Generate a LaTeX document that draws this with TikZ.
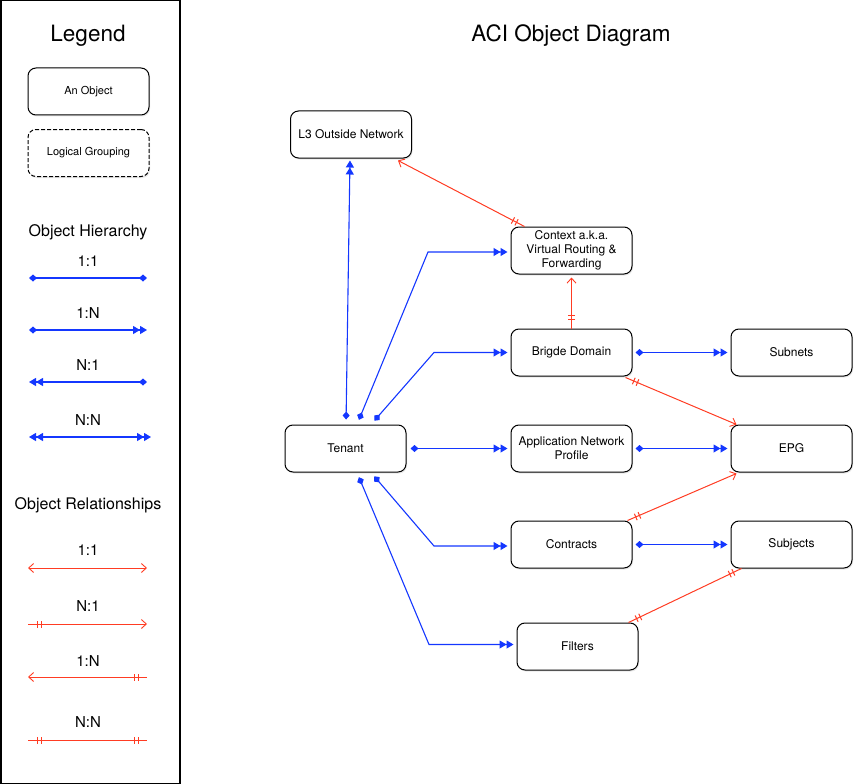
\documentclass[tikz,border=0pt]{standalone}
\usepackage{fontspec}
\setmainfont{TeX Gyre Heros}
\usetikzlibrary{arrows.meta,decorations.markings,shadows,calc}
\definecolor{hblue}{RGB}{20,55,255}
\definecolor{rred}{RGB}{255,60,35}
\tikzset{
  dmd/.tip={Diamond[length=8pt,width=7pt]},
  dtri/.tip={Triangle[length=7pt,width=8pt] Triangle[length=7pt,width=8pt]},
  obarb/.tip={Straight Barb[length=5pt,width=9pt,line width=0.9pt]},
  obj/.style={draw, rounded corners=8pt, line width=1pt, minimum width=121pt,
    minimum height=47pt, inner sep=0pt, align=center, fill=white,
    font=\fontsize{12}{14}\selectfont,
    drop shadow={shadow xshift=1pt,shadow yshift=-1.5pt,opacity=0.18}},
  hier/.style={hblue, line width=1.1pt},
  rel/.style={rred, line width=1pt},
  hs/.style={postaction={decorate,decoration={markings,
    mark=at position 9pt with {\draw[-,rred,line width=1pt] (0pt,-3.5pt)--(0pt,3.5pt) (4pt,-3.5pt)--(4pt,3.5pt);}}}},
  he/.style={postaction={decorate,decoration={markings,
    mark=at position -9pt with {\draw[-,rred,line width=1pt] (0pt,-3.5pt)--(0pt,3.5pt) (-4pt,-3.5pt)--(-4pt,3.5pt);}}}},
  big/.style={font=\fontsize{22.5}{26}\selectfont},
  head/.style={font=\fontsize{16}{18}\selectfont},
  lab/.style={font=\fontsize{15}{18}\selectfont},
  small/.style={font=\fontsize{11}{13}\selectfont}
}
\begin{document}
\begin{tikzpicture}[x=1pt,y=-1pt]
\useasboundingbox (0,0) rectangle (855,784);
% legend frame
\draw[line width=1.5pt] (0.75,0.75) rectangle (180,783.25);
\node[big] (legtitle) at (88,36) {Legend};
\node[obj, small] (lobj) at (88.5,91.5) {An Object};
\node[obj, small, dashed, dash pattern=on 4pt off 2pt] (lgrp) at (88.5,153) {Logical Grouping};
\node[head] (hh) at (88,232) {Object Hierarchy};
\node[lab] (h1) at (88,261) {1:1};
\node[lab] (h2) at (88,313) {1:N};
\node[lab] (h3) at (88,365) {N:1};
\node[lab] (h4) at (88,420) {N:N};
\coordinate (h1a) at (29,278); \coordinate (h1b) at (147,278);
\coordinate (h2a) at (29,330); \coordinate (h2b) at (147,330);
\coordinate (h3a) at (29,382); \coordinate (h3b) at (147,382);
\coordinate (h4a) at (29,437); \coordinate (h4b) at (151,437);
\draw[hier,dmd-dmd] (h1a) -- (h1b);
\draw[hier,dmd-dtri] (h2a) -- (h2b);
\draw[hier,dtri-dmd] (h3a) -- (h3b);
\draw[hier,dtri-dtri] (h4a) -- (h4b);
\node[head] (rh) at (88,505) {Object Relationships};
\node[lab] (r1) at (88,550) {1:1};
\node[lab] (r2) at (88,606) {N:1};
\node[lab] (r3) at (88,661) {1:N};
\node[lab] (r4) at (88,722) {N:N};
\coordinate (r1a) at (28,568); \coordinate (r1b) at (147,568);
\coordinate (r2a) at (28,624); \coordinate (r2b) at (147,624);
\coordinate (r3a) at (28,677); \coordinate (r3b) at (147,677);
\coordinate (r4a) at (28,740); \coordinate (r4b) at (147,740);
\draw[rel,obarb-obarb] (r1a) -- (r1b);
\draw[rel,hs,-obarb] (r2a) -- (r2b);
\draw[rel,he,obarb-] (r3a) -- (r3b);
\draw[rel,hs,he] (r4a) -- (r4b);
% diagram
\node[big] (title) at (571,36) {ACI Object Diagram};
\node[obj] (l3) at (351,134.5) {L3 Outside Network};
\node[obj] (ctx) at (571.5,250.5) {Context a.k.a.\\Virtual Routing \&\\Forwarding};
\node[obj] (bd) at (571.5,352.5) {Brigde Domain};
\node[obj] (sub) at (791.5,352.5) {Subnets};
\node[obj] (ten) at (345.5,448.5) {Tenant};
\node[obj] (anp) at (571.5,448.5) {Application Network\\Profile};
\node[obj] (epg) at (791.5,448.5) {EPG};
\node[obj] (con) at (571.5,544.5) {Contracts};
\node[obj] (sj) at (791.5,544.5) {Subjects};
\node[obj] (fil) at (577.5,646.5) {Filters};
% bend points
\coordinate (b2) at (428,252);
\coordinate (b3) at (434,352.5);
\coordinate (b5) at (434,546);
\coordinate (b6) at (429,644.5);
% hierarchy connectors
\draw[hier,dmd-dtri,shorten <=5pt,shorten >=2pt] ($(ten.north)+(0.5,0)$) -- ($(l3.south)+(-1,0)$);
\draw[hier,dmd-dtri,shorten <=5pt,shorten >=3pt] ($(ten.north)+(11.5,0)$) -- (b2) -- (b2 -| ctx.west);
\draw[hier,dmd-dtri,shorten <=5pt,shorten >=3pt] ($(ten.north)+(25.5,0)$) -- (b3) -- (bd.west);
\draw[hier,dmd-dtri,shorten <=4pt,shorten >=3pt] (ten.east) -- (anp.west);
\draw[hier,dmd-dtri,shorten <=5pt,shorten >=3pt] ($(ten.south)+(25.5,0)$) -- (b5) -- (b5 -| con.west);
\draw[hier,dmd-dtri,shorten <=5pt,shorten >=3pt] ($(ten.south)+(11.5,0)$) -- (b6) -- (b6 -| fil.west);
\draw[hier,dmd-dtri,shorten <=3pt,shorten >=3pt] (bd.east) -- (sub.west);
\draw[hier,dmd-dtri,shorten <=3pt,shorten >=3pt] (anp.east) -- (epg.west);
\draw[hier,dmd-dtri,shorten <=3pt,shorten >=3pt] (con.east) -- (sj.west);
% relationship connectors
\draw[rel,hs,-obarb] ($(ctx.north west)+(14,0)$) -- ($(l3.south east)+(-14,2)$);
\draw[rel,hs,-obarb] ($(bd.north)+(0,0)$) -- ($(ctx.south)+(0,3)$);
\draw[rel,hs,-obarb] ($(bd.south east)+(-7,1)$) -- ($(epg.north west)+(6,0)$);
\draw[rel,hs,-obarb] ($(con.north east)+(-5,0)$) -- ($(epg.south west)+(6,1)$);
\draw[rel,hs,he] ($(fil.north east)+(-10,0)$) -- ($(sj.south west)+(11,0)$);
\end{tikzpicture}
\end{document}
